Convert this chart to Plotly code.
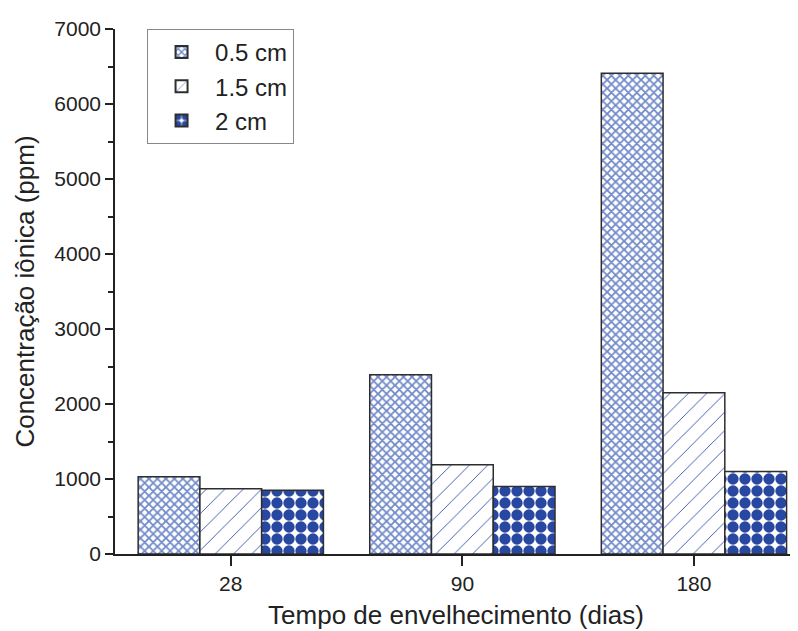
import plotly.graph_objects as go

categories = ["28", "90", "180"]
series_names = ["0.5 cm", "1.5 cm", "2 cm"]
values_05 = [1030, 2390, 6410]
values_15 = [870, 1190, 2150]
values_2 = [850, 900, 1100]
y_ticks = [0, 1000, 2000, 3000, 4000, 5000, 6000, 7000]

FONT = "Liberation Sans, Arial, sans-serif"
TXT = "#222222"
outline = dict(color="#2e2e2e", width=1.5)

fig = go.Figure()
fig.add_trace(go.Bar(
    name=series_names[0], x=categories, y=values_05,
    marker=dict(color="white", line=outline,
                pattern=dict(shape="x", fgcolor="#6f88c8", bgcolor="white",
                             size=6, solidity=0.5, fillmode="replace")),
))
fig.add_trace(go.Bar(
    name=series_names[1], x=categories, y=values_15,
    marker=dict(color="white", line=outline,
                pattern=dict(shape="/", fgcolor="#3453a8", bgcolor="white",
                             size=13, solidity=0.07, fillmode="replace")),
))
fig.add_trace(go.Bar(
    name=series_names[2], x=categories, y=values_2,
    marker=dict(color="white", line=outline,
                pattern=dict(shape=".", fgcolor="#2847a0", bgcolor="white",
                             size=12, solidity=0.7, fillmode="replace")),
))

# the page body has an 8px default margin, so margins are offset by 8px
fig.update_layout(
    width=798, height=631,
    margin=dict(l=107, r=9, t=15, b=85),
    paper_bgcolor="white", plot_bgcolor="white",
    barmode="group", bargap=0.2, bargroupgap=0,
    font=dict(family=FONT, color=TXT),
    showlegend=True,
    legend=dict(x=0.047, y=1.0, xanchor="left", yanchor="top",
                bgcolor="white", bordercolor="#888888", borderwidth=1,
                font=dict(size=24, family=FONT, color=TXT),
                tracegroupgap=0, itemsizing="constant", itemwidth=57),
    xaxis=dict(
        type="category", range=[-0.5, 2.445],
        showline=True, linecolor=TXT, linewidth=1.5,
        ticks="outside", ticklen=10, tickwidth=1.5, tickcolor=TXT,
        tickfont=dict(size=21, family=FONT, color=TXT),
        showgrid=False, zeroline=False,
        title=dict(text="Tempo de envelhecimento (dias)",
                   font=dict(size=26, family=FONT, color=TXT), standoff=12),
    ),
    yaxis=dict(
        range=[0, 7000], tickvals=y_ticks,
        showline=True, linecolor=TXT, linewidth=1.5,
        ticks="outside", ticklen=8, tickwidth=1.5, tickcolor=TXT,
        minor=dict(dtick=500, ticks="outside", ticklen=5, tickwidth=1.5,
                   tickcolor=TXT, showgrid=False),
        tickfont=dict(size=21, family=FONT, color=TXT),
        showgrid=False, zeroline=False,
        title=dict(text="Concentração iônica (ppm)",
                   font=dict(size=26, family=FONT, color=TXT), standoff=12),
    ),
)

fig.write_html("out.html")
